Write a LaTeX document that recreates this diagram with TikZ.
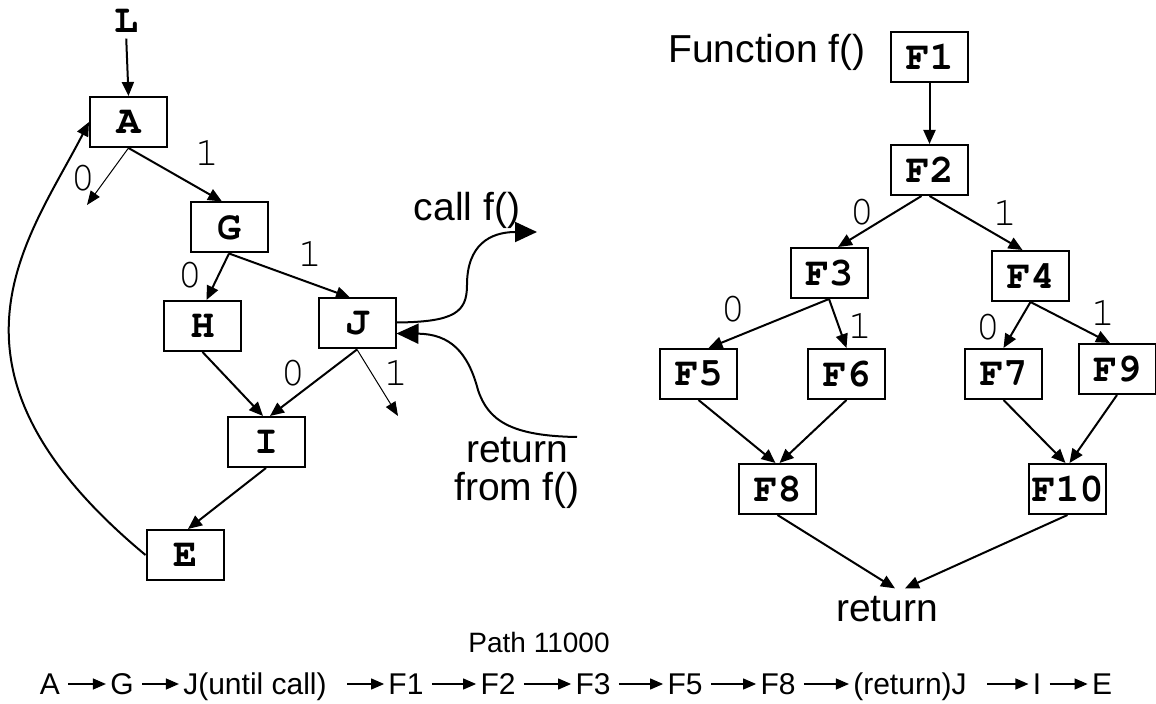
\documentclass[tikz,border=0pt]{standalone}
\usepackage[T1]{fontenc}
\usepackage{fontspec}
\usetikzlibrary{arrows.meta,calc,positioning}
\newfontfamily\sansfnt{Liberation Sans}
\newcommand{\cfnt}{\fontencoding{T1}\fontfamily{pcr}\selectfont}

\begin{document}
\begin{tikzpicture}[x=0.5pt, y=-0.5pt,
  blk/.style={draw, line width=1pt, minimum width=38.5pt, minimum height=25pt, inner sep=0pt, font=\cfnt\bfseries\fontsize{20}{22}\selectfont},
  bit/.style={inner sep=0pt, font=\cfnt\fontsize{20.5}{22}\selectfont},
  lab/.style={inner sep=0pt, font=\sansfnt\fontsize{19.5}{19}\selectfont},
  flow/.style={-{Triangle[length=7pt, width=6pt]}, line width=1pt},
  stub/.style={-{Triangle[length=7pt, width=5.5pt]}, line width=0.5pt},
  jump/.style={-{Triangle[length=11pt, width=10pt]}, line width=1pt},
  seq/.style={anchor=base, inner sep=0pt, font=\sansfnt\fontsize{15}{15}\selectfont},
  seqarr/.style={-{Triangle[length=6.5pt, width=5.5pt]}, line width=0.6pt, shorten <=4pt, shorten >=2pt},
]
\useasboundingbox (0,0) rectangle (1156,704);
% ---------------- loop body with the call
\node[bit, font=\cfnt\bfseries\fontsize{20}{22}\selectfont] (L) at (126,21) {L};
\node[blk] (A) at (128.5,122) {A};
\node[blk] (G) at (229,227.5) {G};
\node[blk] (H) at (202.5,326) {H};
\node[blk] (J) at (357,323.5) {J};
\node[blk] (I) at (266,442) {I};
\node[blk] (E) at (185,555) {E};
\coordinate (A0) at (87,205);
\coordinate (J1) at (398,416);
\draw[flow, shorten <=3pt] (L.south) -- (A.north);
\draw[flow] (A.south) -- ($(G.north)+(-7,0)$);
\draw[stub] (A.south) -- (A0);
\draw[flow] (G.south) -- ($(H.north)+(4,0)$);
\draw[flow] (G.south) -- ($(J.north)+(-7,0)$);
\draw[flow] (H.south) -- ($(I.north)+(-3,0)$);
\draw[flow] (J.south) -- ($(I.north)+(4,0)$);
\draw[stub] (J.south) -- (J1);
\draw[flow] (I.south) -- ($(E.north)+(3,0)$);
% back edge of the loop
\draw[flow] (E.west) .. controls (-79.5,368) and (28.4,240) .. (A.west);
% branch bits
\node[bit] (bA1) at (207,152) {1};
\node[bit] (bA0) at (83,178) {0};
\node[bit] (bG0) at (190,275) {0};
\node[bit] (bG1) at (310,253) {1};
\node[bit] (bJ0) at (293,373) {0};
\node[bit] (bJ1) at (396,372) {1};
% call into f() and back
\coordinate (callto) at (537,232);
\coordinate (retfrom) at (577,437);
\draw[jump] ($(J.east)+(0,-1)$) .. controls (455,322) and (467,312) .. (467,285) .. controls (467,245) and (490,232) .. (callto);
\draw[jump] (retfrom) .. controls (510,436) and (488,420) .. (478,390) .. controls (468,352) and (450,334) .. ($(J.east)+(0,10)$);
\node[lab, anchor=base] (calltxt) at (467,221) {call f()};
\node[lab, align=center, anchor=north] (rettxt) at (517,437) {return\\from f()};
% ---------------- function f()
\node[lab, anchor=base] (fn) at (767,63) {Function f()};
\node[blk] (F1) at (929.5,57) {F1};
\node[blk] (F2) at (929.5,170) {F2};
\node[blk] (F3) at (829,273) {F3};
\node[blk] (F4) at (1030.5,276) {F4};
\node[blk] (F5) at (698.5,374) {F5};
\node[blk] (F6) at (846.5,374) {F6};
\node[blk] (F7) at (1003.5,374) {F7};
\node[blk] (F9) at (1117,369) {F9};
\node[blk] (F8) at (777.5,489) {F8};
\node[blk] (F10) at (1067.5,489) {F10};
\node[lab, anchor=base] (ret) at (887,622) {return};
\draw[flow] (F1) -- (F2);
\draw[flow] ($(F2.south)+(-8,0)$) -- ($(F3.north)+(9,0)$);
\draw[flow] (F2.south) -- ($(F4.north)+(-8,0)$);
\draw[flow] (F3.south) -- ($(F5.north)+(10,0)$);
\draw[flow] (F3.south) -- (F6.north);
\draw[flow] (F4.south) -- (F7.north);
\draw[flow] (F4.south) -- ($(F9.north)+(-7,0)$);
\draw[flow] (F5.south) -- ($(F8.north)+(-2,0)$);
\draw[flow] (F6.south) -- ($(F8.north)+(2,0)$);
\draw[flow] (F7.south) -- ($(F10.north)+(-2,0)$);
\draw[flow] (F9.south) -- ($(F10.north)+(2,0)$);
\draw[flow] (F8.south) -- ($(ret.north)+(8,-8)$);
\draw[flow] (F10.south) -- ($(ret.north)+(18,-8)$);
\node[bit] (b20) at (862,212) {0};
\node[bit] (b21) at (1005,212) {1};
\node[bit] (b30) at (733,309) {0};
\node[bit] (b31) at (860,325) {1};
\node[bit] (b40) at (988,327) {0};
\node[bit] (b41) at (1103,312) {1};
% ---------------- executed path
\node[seq, font=\sansfnt\fontsize{14}{14}\selectfont] (ptitle) at (539,653) {Path 11000};
\node[seq] (pA) at (50,695) {A};
\node[seq] (pG) at (122,695) {G};
\node[seq] (pJ) at (255,695) {J(until call)};
\node[seq] (pF1) at (406,695) {F1};
\node[seq] (pF2) at (498,695) {F2};
\node[seq] (pF3) at (593,695) {F3};
\node[seq] (pF5) at (685,695) {F5};
\node[seq] (pF8) at (778,695) {F8};
\node[seq] (pRJ) at (910,695) {(return)J};
\node[seq] (pI) at (1037,695) {I};
\node[seq] (pE) at (1102,695) {E};
\foreach \a/\b in {pA/pG, pG/pJ, pF1/pF2, pF2/pF3, pF3/pF5, pF5/pF8, pF8/pRJ, pI/pE}
  \draw[seqarr] ($(\a.base east)+(0,-11)$) -- ($(\b.base west)+(0,-11)$);
\foreach \a/\b in {pJ/pF1, pRJ/pI}
  \draw[seqarr, shorten <=10pt] ($(\a.base east)+(0,-11)$) -- ($(\b.base west)+(0,-11)$);
\end{tikzpicture}
\end{document}
